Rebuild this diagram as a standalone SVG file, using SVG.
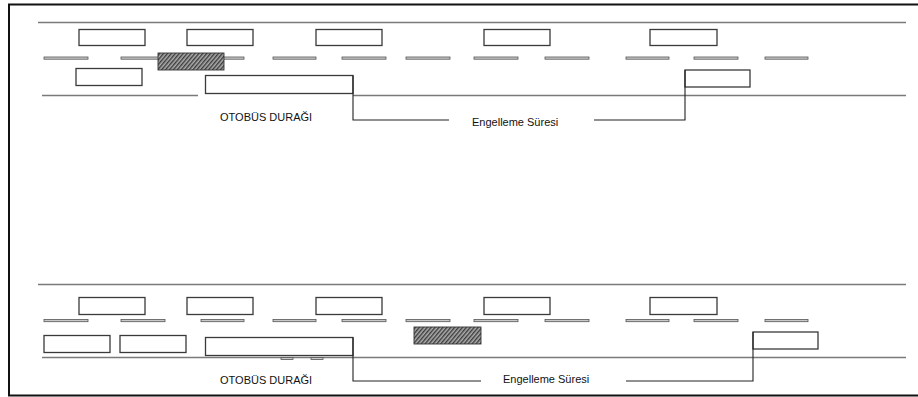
<svg xmlns="http://www.w3.org/2000/svg" width="918" height="397" viewBox="0 0 918 397">
<style>
.road{stroke:#7a7a7a;stroke-width:1.3;fill:none}
.box{fill:#fff;stroke:#3a3a3a;stroke-width:1.3}
.dash{fill:#c8c8c8;stroke:#555;stroke-width:0.8}
.hatch{fill:url(#hp);stroke:#333;stroke-width:0.9}
.wire{stroke:#222;stroke-width:1.1;fill:none}
.lbl{font-family:"Liberation Sans",Arial,sans-serif;font-size:11px;fill:#111}
</style>
<defs>
<pattern id="hp" patternUnits="userSpaceOnUse" width="3" height="3" patternTransform="rotate(-50)">
<rect width="3" height="3" fill="#8a8a8a"/>
<line x1="0" y1="0.8" x2="3" y2="0.8" stroke="#222" stroke-width="1.1"/>
<line x1="0" y1="2.2" x2="3" y2="2.2" stroke="#e0e0e0" stroke-width="0.6"/>
</pattern>
<g id="dashrow">
<rect class="dash" x="44" y="-1" width="44" height="2.2"/>
<rect class="dash" x="121" y="-1" width="44" height="2.2"/>
<rect class="dash" x="201" y="-1" width="43" height="2.2"/>
<rect class="dash" x="273" y="-1" width="43" height="2.2"/>
<rect class="dash" x="342" y="-1" width="44" height="2.2"/>
<rect class="dash" x="406" y="-1" width="44" height="2.2"/>
<rect class="dash" x="474" y="-1" width="44" height="2.2"/>
<rect class="dash" x="545" y="-1" width="44" height="2.2"/>
<rect class="dash" x="626" y="-1" width="43" height="2.2"/>
<rect class="dash" x="694" y="-1" width="44" height="2.2"/>
<rect class="dash" x="765" y="-1" width="43" height="2.2"/>
</g>
</defs>
<rect x="9" y="4.5" width="915" height="391" fill="#fff" stroke="#111" stroke-width="2"/>

<!-- TOP SCENE -->
<g id="top-road">
<line class="road" x1="38" y1="22.5" x2="906" y2="22.5"/>
<use href="#dashrow" y="58"/>
<line class="road" x1="42" y1="95.5" x2="198" y2="95.5"/>
<line class="road" x1="353" y1="95.5" x2="906" y2="95.5"/>
</g>
<g id="top-car1"><rect class="box" x="79" y="29.5" width="66" height="16"/></g>
<g id="top-car2"><rect class="box" x="187" y="29.5" width="66" height="16"/></g>
<g id="top-car3"><rect class="box" x="316" y="29.5" width="66" height="16"/></g>
<g id="top-car4"><rect class="box" x="484" y="29.5" width="66" height="16"/></g>
<g id="top-car5"><rect class="box" x="650" y="29.5" width="67" height="16"/></g>
<g id="top-bus"><rect class="hatch" x="158" y="53" width="66" height="17"/></g>
<g id="top-car6"><rect class="box" x="76" y="68.5" width="66" height="17"/></g>
<g id="top-stop"><rect class="box" x="205.5" y="75.5" width="147.5" height="18"/>
<text class="lbl" x="220" y="121">OTOBÜS DURAĞI</text></g>
<g id="top-car7"><rect class="box" x="685" y="70" width="65" height="17"/></g>
<g id="top-label"><text class="lbl" x="472" y="126">Engelleme Süresi</text></g>

<!-- BOTTOM SCENE -->
<g id="bot-road">
<line class="road" x1="38" y1="284.5" x2="906" y2="284.5"/>
<use href="#dashrow" y="320.5"/>
<line class="road" x1="42" y1="357.5" x2="906" y2="357.5"/>
<rect class="dash" x="281" y="357.5" width="12" height="2"/>
<rect class="dash" x="311" y="357.5" width="12" height="2"/>
</g>
<g id="bot-car1"><rect class="box" x="79" y="297.5" width="66" height="17"/></g>
<g id="bot-car2"><rect class="box" x="187" y="297.5" width="66" height="17"/></g>
<g id="bot-car3"><rect class="box" x="316" y="297.5" width="66" height="17"/></g>
<g id="bot-car4"><rect class="box" x="484" y="297.5" width="66" height="17"/></g>
<g id="bot-car5"><rect class="box" x="650" y="297.5" width="67" height="17"/></g>
<g id="bot-bus"><rect class="hatch" x="414" y="327" width="67" height="17"/></g>
<g id="bot-car6"><rect class="box" x="44" y="335.5" width="66" height="17"/></g>
<g id="bot-car7"><rect class="box" x="120" y="335.5" width="66" height="17"/></g>
<g id="bot-stop"><rect class="box" x="205.5" y="337.5" width="147.5" height="18"/>
<text class="lbl" x="220" y="384">OTOBÜS DURAĞI</text></g>
<g id="bot-car8"><rect class="box" x="753" y="332" width="65" height="17"/></g>
<g id="bot-label"><text class="lbl" x="503" y="383">Engelleme Süresi</text></g>

<g id="connectors">
<polyline class="wire" points="353,75.5 353,120 449,120"/>
<polyline class="wire" points="594,120 685,120 685,70"/>
<polyline class="wire" points="353,337.5 353,381 481,381"/>
<polyline class="wire" points="626,381 753,381 753,332"/>
</g>
</svg>
